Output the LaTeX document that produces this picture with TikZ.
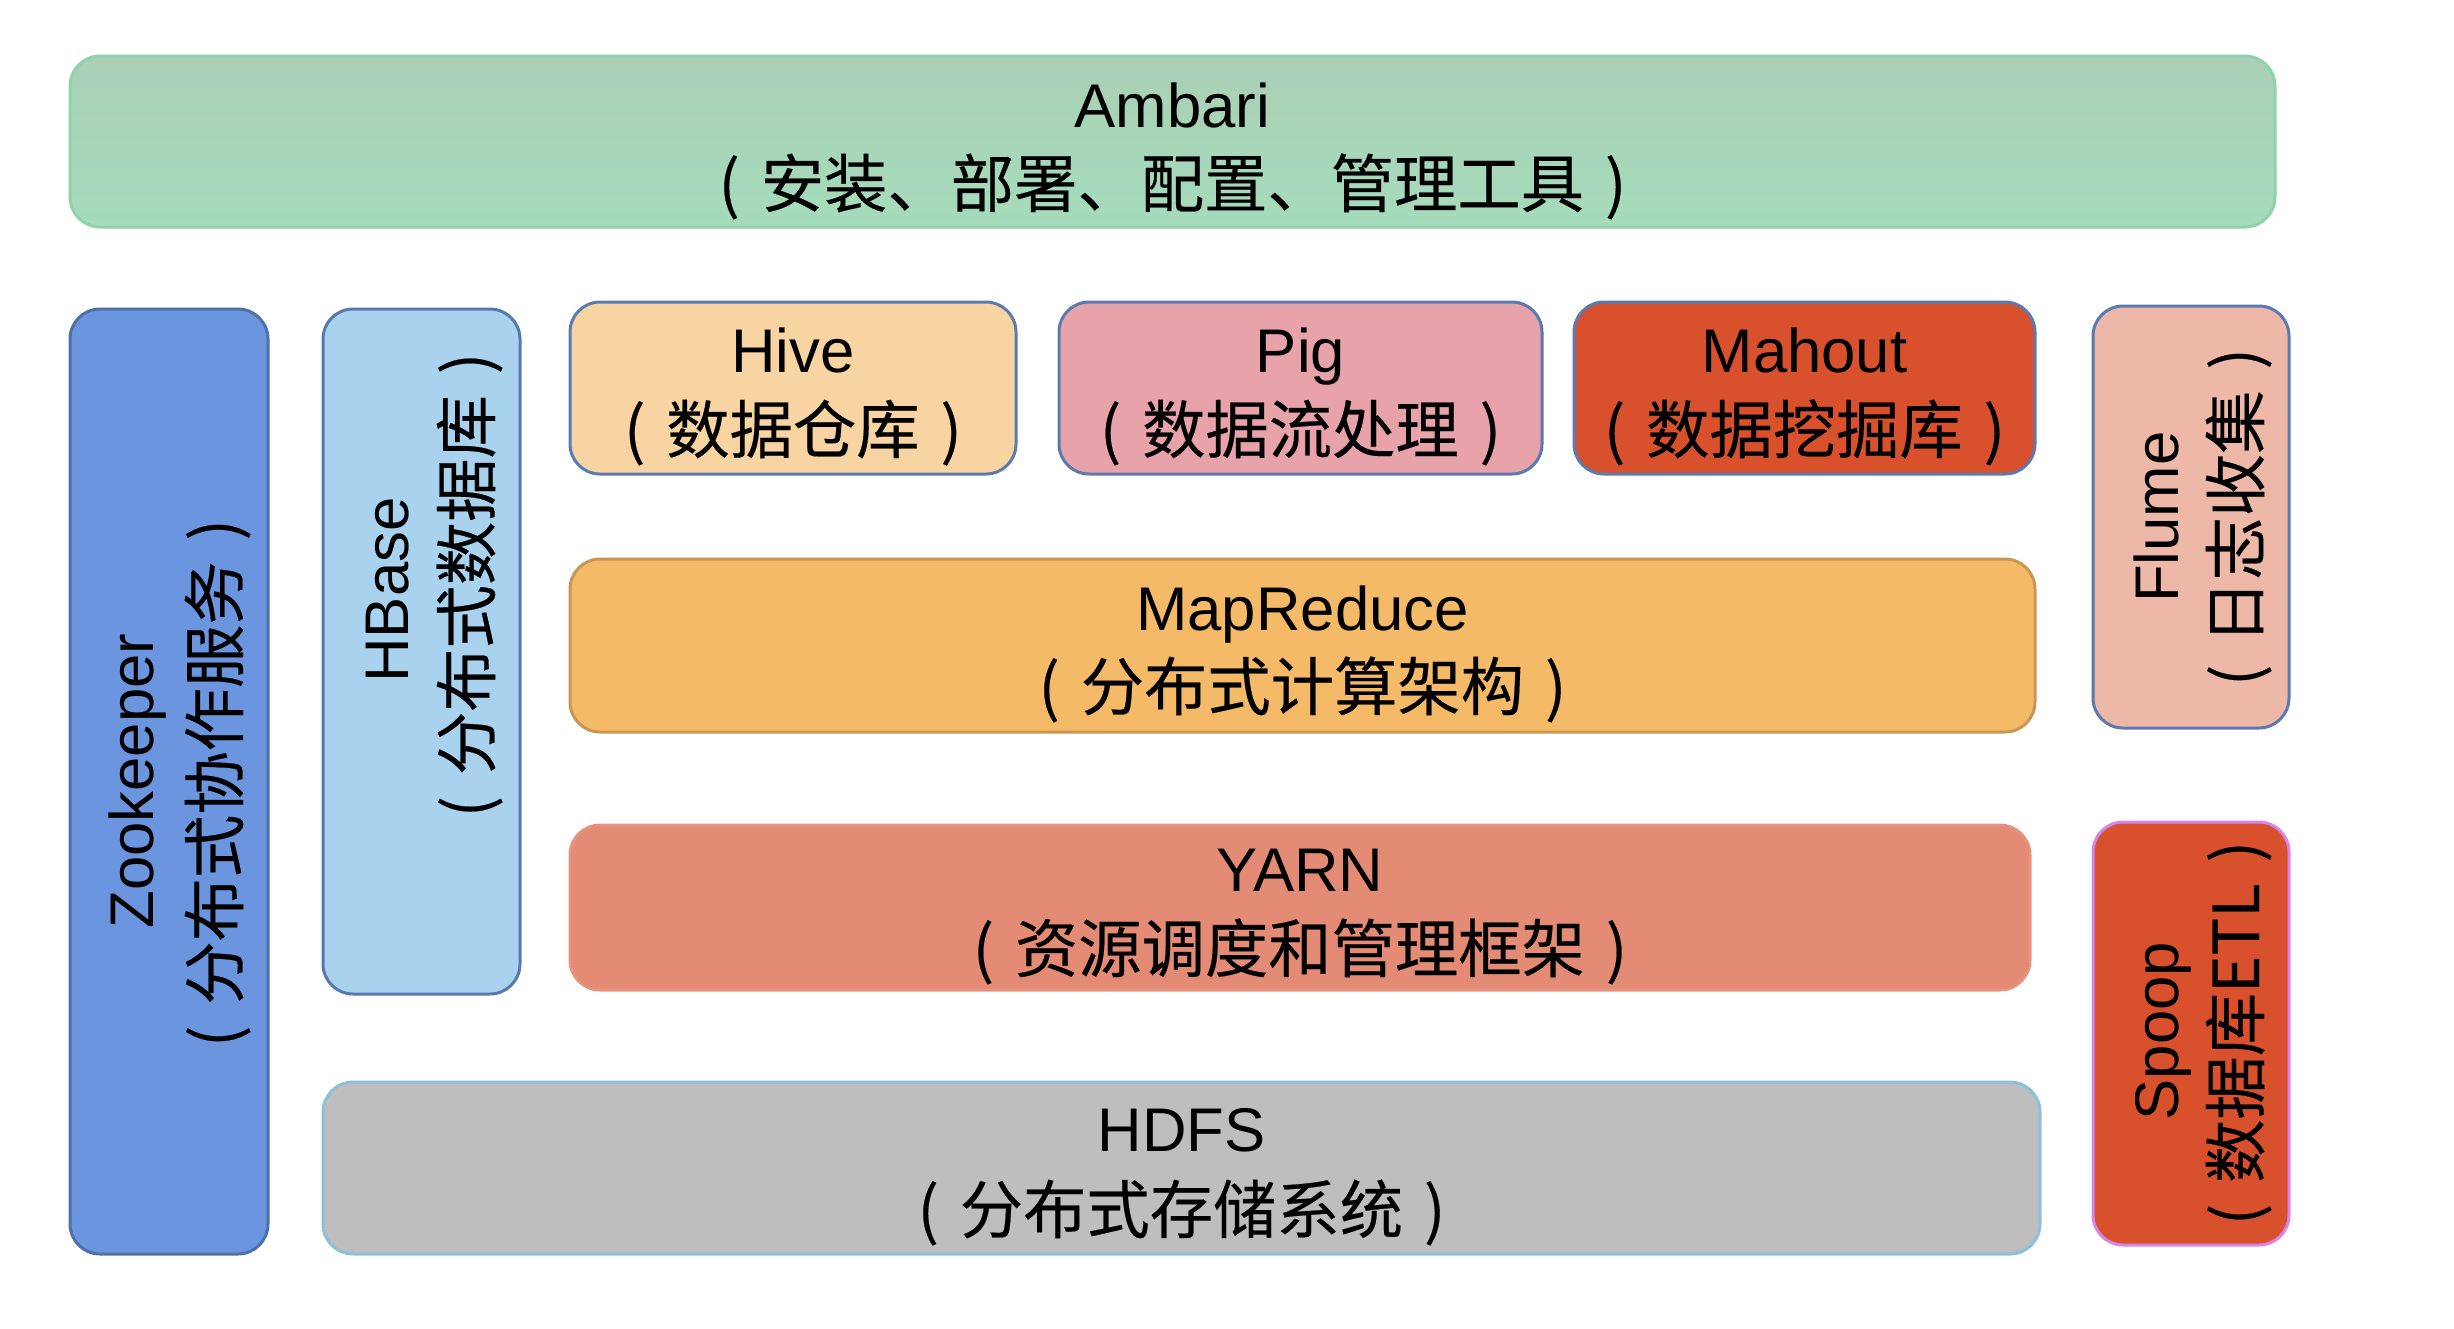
\documentclass[tikz,border=0pt]{standalone}
\usepackage{fontspec}
\setmainfont{Liberation Sans}
\newfontfamily\cjk[FakeBold=0.35]{Noto Sans CJK SC}
\definecolor{ambT}{HTML}{AACFB6}
\definecolor{ambB}{HTML}{A5DCBC}
\definecolor{ambD}{HTML}{8ED3A9}
\definecolor{zooF}{HTML}{6B96DF}
\definecolor{zooD}{HTML}{4D70A8}
\definecolor{hbF}{HTML}{A8D2EE}
\definecolor{hbD}{HTML}{5779B0}
\definecolor{hiveF}{HTML}{F8D4A2}
\definecolor{pigF}{HTML}{E8A2AA}
\definecolor{mahF}{HTML}{D9502D}
\definecolor{blueD}{HTML}{5A7AB0}
\definecolor{flF}{HTML}{EDB8A8}
\definecolor{mrF}{HTML}{F4BA68}
\definecolor{mrD}{HTML}{C99654}
\definecolor{yarnF}{HTML}{E38B75}
\definecolor{yarnD}{HTML}{E6927D}
\definecolor{hdF}{HTML}{BEBEBE}
\definecolor{hdD}{HTML}{8CC0DD}
\definecolor{spD}{HTML}{D885EB}
\newcommand{\lp}{\makebox[1em][c]{(}}
\newcommand{\rp}{\makebox[1em][c]{)}}
\tikzset{
  bx/.style={rectangle, rounded corners=9pt, inner sep=0pt, line width=0.9pt},
  lat/.style={anchor=base, inner sep=0pt, font=\fontsize{18.5pt}{22pt}\selectfont},
  zh/.style={anchor=base, inner sep=0pt, font=\cjk\fontsize{19pt}{22pt}\selectfont},
}
\begin{document}
\begin{tikzpicture}[x=0.3pt, y=-0.3pt]
\useasboundingbox (0,0) rectangle (2454,1328);
% boxes
\node[bx, top color=ambT, bottom color=ambB, draw=ambD, minimum width=661.5pt, minimum height=51.3pt] (amb) at (1172.5,141.5) {};
\node[bx, fill=zooF, draw=zooD, minimum width=59.4pt, minimum height=283.5pt] (zoo) at (169,781.5) {};
\node[bx, fill=hbF, draw=hbD, minimum width=59.1pt, minimum height=205.5pt] (hb) at (421.5,651.5) {};
\node[bx, fill=hiveF, draw=blueD, minimum width=133.8pt, minimum height=51.6pt] (hive) at (793,388) {};
\node[bx, fill=pigF, draw=blueD, minimum width=144.9pt, minimum height=51.6pt] (pig) at (1300.5,388) {};
\node[bx, fill=mahF, draw=blueD, minimum width=138.3pt, minimum height=51.6pt] (mah) at (1804.5,388) {};
\node[bx, fill=flF, draw=blueD, minimum width=58.8pt, minimum height=126.6pt] (fl) at (2191,517) {};
\node[bx, fill=mrF, draw=mrD, minimum width=439.5pt, minimum height=51.9pt] (mr) at (1302.5,645.5) {};
\node[bx, fill=yarnF, draw=yarnD, minimum width=438pt, minimum height=49.5pt] (yarn) at (1300,907.5) {};
\node[bx, fill=hdF, draw=hdD, minimum width=515.1pt, minimum height=51.6pt] (hd) at (1181.5,1168) {};
\node[bx, fill=mahF, draw=spD, minimum width=58.8pt, minimum height=126.9pt] (sp) at (2191,1033.5) {};
% horizontal texts
\node[lat] (amb-a) at (1172.5,127) {Ambari};
\node[zh] (amb-b) at (1172.5,207) {\lp 安装、部署、配置、管理工具\rp};
\node[lat] (hive-a) at (793,372) {Hive};
\node[zh] (hive-b) at (793,453) {\lp 数据仓库\rp};
\node[lat] (pig-a) at (1300.5,372) {Pig};
\node[zh] (pig-b) at (1300.5,453) {\lp 数据流处理\rp};
\node[lat] (mah-a) at (1804.5,372) {Mahout};
\node[zh] (mah-b) at (1804.5,453) {\lp 数据挖掘库\rp};
\node[lat] (mr-a) at (1302.5,630) {MapReduce};
\node[zh] (mr-b) at (1302.5,710) {\lp 分布式计算架构\rp};
\node[lat] (yarn-a) at (1300,891) {YARN};
\node[zh] (yarn-b) at (1300,972) {\lp 资源调度和管理框架\rp};
\node[lat] (hd-a) at (1181.5,1151) {HDFS};
\node[zh] (hd-b) at (1181.5,1233) {\lp 分布式存储系统\rp};
% vertical texts
\node[lat, rotate=90] (zoo-a) at (153,781) {Zookeeper};
\node[zh, rotate=90] (zoo-b) at (238,783) {\lp 分布式协作服务\rp};
\node[lat, rotate=90] (hb-a) at (408,590) {HBase};
\node[zh, rotate=90] (hb-b) at (490,585) {\lp 分布式数据库\rp};
\node[lat, rotate=90] (fl-a) at (2178,517) {Flume};
\node[zh, rotate=90] (fl-b) at (2259,517) {\lp 日志收集\rp};
\node[lat, rotate=90] (sp-a) at (2178,1031) {Spoop};
\node[zh, rotate=90] (sp-b) at (2259,1033) {\lp 数据库ETL\rp};
\end{tikzpicture}
\end{document}
